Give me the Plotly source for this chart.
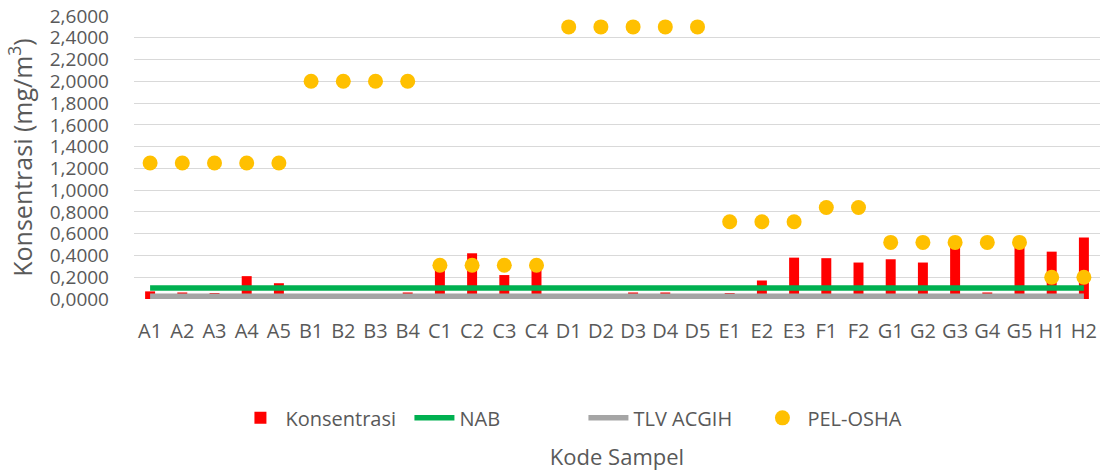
import plotly.graph_objects as go

# Sample codes along the x axis
kode_sampel = [
    "A1", "A2", "A3", "A4", "A5",
    "B1", "B2", "B3", "B4",
    "C1", "C2", "C3", "C4",
    "D1", "D2", "D3", "D4", "D5",
    "E1", "E2", "E3",
    "F1", "F2",
    "G1", "G2", "G3", "G4", "G5",
    "H1", "H2",
]

# Measured concentration (mg/m3)
konsentrasi = [
    0.070, 0.060, 0.055, 0.210, 0.145,
    0.030, 0.030, 0.030, 0.060,
    0.270, 0.420, 0.220, 0.270,
    0.030, 0.030, 0.060, 0.060, 0.030,
    0.055, 0.170, 0.380,
    0.375, 0.335,
    0.365, 0.335, 0.490, 0.060, 0.490,
    0.435, 0.565,
]

# Threshold limit values (mg/m3)
nab = [
    0.1, 0.1, 0.1, 0.1, 0.1,
    0.1, 0.1, 0.1, 0.1,
    0.1, 0.1, 0.1, 0.1,
    0.1, 0.1, 0.1, 0.1, 0.1,
    0.1, 0.1, 0.1,
    0.1, 0.1,
    0.1, 0.1, 0.1, 0.1, 0.1,
    0.1, 0.1,
]

tlv_acgih = [
    0.025, 0.025, 0.025, 0.025, 0.025,
    0.025, 0.025, 0.025, 0.025,
    0.025, 0.025, 0.025, 0.025,
    0.025, 0.025, 0.025, 0.025, 0.025,
    0.025, 0.025, 0.025,
    0.025, 0.025,
    0.025, 0.025, 0.025, 0.025, 0.025,
    0.025, 0.025,
]

pel_osha = [
    1.25, 1.25, 1.25, 1.25, 1.25,
    2.00, 2.00, 2.00, 2.00,
    0.31, 0.31, 0.31, 0.31,
    2.50, 2.50, 2.50, 2.50, 2.50,
    0.71, 0.71, 0.71,
    0.84, 0.84,
    0.52, 0.52, 0.52, 0.52, 0.52,
    0.20, 0.20,
]

FONT = "Open Sans, Calibri, sans-serif"
TEXT = "#595959"

fig = go.Figure()

fig.add_trace(go.Bar(
    x=kode_sampel, y=konsentrasi, name="Konsentrasi",
    marker=dict(color="#FF0000", line=dict(width=0)),
    width=0.31,
))
fig.add_trace(go.Scatter(
    x=kode_sampel, y=nab, name="NAB", mode="lines",
    line=dict(color="#00B050", width=5.5),
))
fig.add_trace(go.Scatter(
    x=kode_sampel, y=tlv_acgih, name="TLV ACGIH", mode="lines",
    line=dict(color="#A5A5A5", width=5.5),
    cliponaxis=False,
))
fig.add_trace(go.Scatter(
    x=kode_sampel, y=pel_osha, name="PEL-OSHA", mode="markers",
    marker=dict(color="#FFC000", size=15, line=dict(width=0)),
))

fig.update_layout(
    width=1102, height=471,
    margin=dict(l=134, r=2, t=16, b=172, autoexpand=False),
    paper_bgcolor="white", plot_bgcolor="white",
    font=dict(family=FONT, color=TEXT, size=20),
    separators=", ",
    showlegend=True,
    legend=dict(
        orientation="h", x=0.105, xanchor="left",
        y=-0.42, yanchor="middle",
        font=dict(size=20, color=TEXT),
        traceorder="normal",
        itemwidth=40,
        entrywidth=119,
    ),
)

# one slot per sample code, no extra padding on either side
fig.update_xaxes(
    type="category",
    range=[-0.5, len(kode_sampel) - 0.5],
    automargin=False,
    showgrid=False, showline=False, zeroline=False,
    tickfont=dict(size=20, color=TEXT),
    ticklabelstandoff=18,
    title=dict(text="Kode Sampel", font=dict(size=22, color=TEXT), standoff=108),
)
fig.update_yaxes(
    range=[0, 2.6], dtick=0.2, tickformat=".4f",
    automargin=False,
    showgrid=True, gridcolor="#D9D9D9", gridwidth=1.3,
    zeroline=False, showline=False,
    tickfont=dict(size=19, color=TEXT),
    ticklabelstandoff=24,
    title=dict(text="Konsentrasi (mg/m<sup>3</sup>)", font=dict(size=25, color=TEXT), standoff=10),
)

fig.write_html("out.html")
